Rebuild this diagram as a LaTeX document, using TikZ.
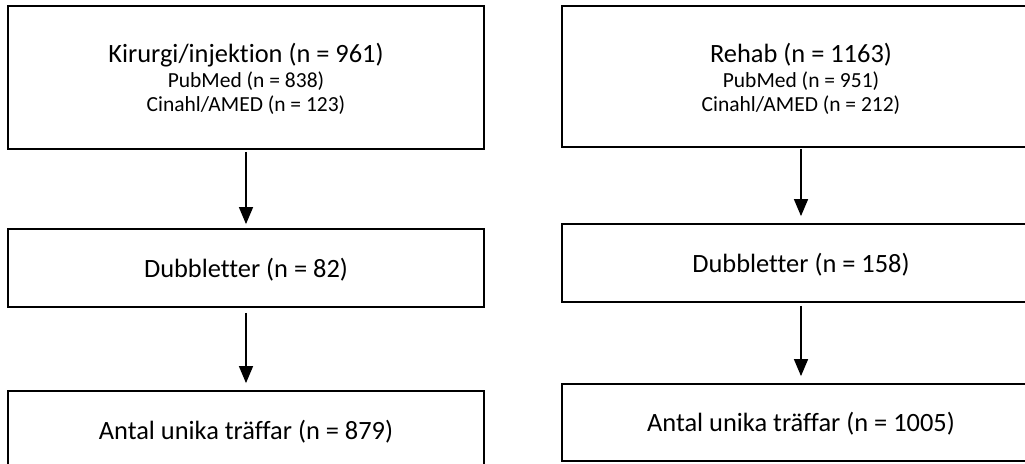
\documentclass[tikz,border=0pt]{standalone}
\usepackage{fontspec}
\setmainfont[Ligatures={NoCommon,NoRare,NoContextual},Contextuals=NoAlternate]{Carlito}
\usetikzlibrary{arrows.meta}
\tikzset{
  box/.style={draw=black, line width=1.8pt, inner sep=0pt, fill=white},
  big/.style={anchor=base, inner sep=0pt, font=\fontsize{26.4}{30}\selectfont},
  small/.style={anchor=base, inner sep=0pt, font=\fontsize{21.5}{25}\selectfont},
  arr/.style={line width=1.4pt, -{Triangle[width=14pt,length=17pt]}}
}
\begin{document}
\begin{tikzpicture}[x=1pt,y=-1pt]
\useasboundingbox (0,0) rectangle (1025,463);
\clip (0,0) rectangle (1025,463);
\fill[white] (0,0) rectangle (1025,463);
% left column
\node[box, minimum width=476pt, minimum height=143pt] (l1) at (246,77.5) {};
\node[box, minimum width=476pt, minimum height=78pt] (l2) at (246,268) {};
\node[box, minimum width=476pt, minimum height=80pt] (l3) at (246,431) {};
\node[big] (l1a) at (246,62) {Kirurgi/injektion (n = 961)};
\node[small] (l1b) at (246,87) {PubMed (n = 838)};
\node[small] (l1c) at (246,111) {Cinahl/AMED (n = 123)};
\node[big] (l2a) at (246,277) {Dubbletter (n = 82)};
\node[big] (l3a) at (246,439) {Antal unika träffar (n = 879)};
\draw[arr] ([yshift=-2pt]l1.south) -- ([yshift=4pt]l2.north);
\draw[arr] ([yshift=-5pt]l2.south) -- ([yshift=7pt]l3.north);
% right column
\node[box, minimum width=478pt, minimum height=141pt] (r1) at (801,76.5) {};
\node[box, minimum width=478pt, minimum height=78pt] (r2) at (801,263) {};
\node[box, minimum width=478pt, minimum height=77pt] (r3) at (801,422.5) {};
\node[big] (r1a) at (801,62) {Rehab (n = 1163)};
\node[small] (r1b) at (801,87) {PubMed (n = 951)};
\node[small] (r1c) at (801,111) {Cinahl/AMED (n = 212)};
\node[big] (r2a) at (801,272) {Dubbletter (n = 158)};
\node[big] (r3a) at (801,431) {Antal unika träffar (n = 1005)};
\draw[arr] ([yshift=-1pt]r1.south) -- ([yshift=7pt]r2.north);
\draw[arr] ([yshift=-3pt]r2.south) -- ([yshift=7pt]r3.north);
\end{tikzpicture}
\end{document}
